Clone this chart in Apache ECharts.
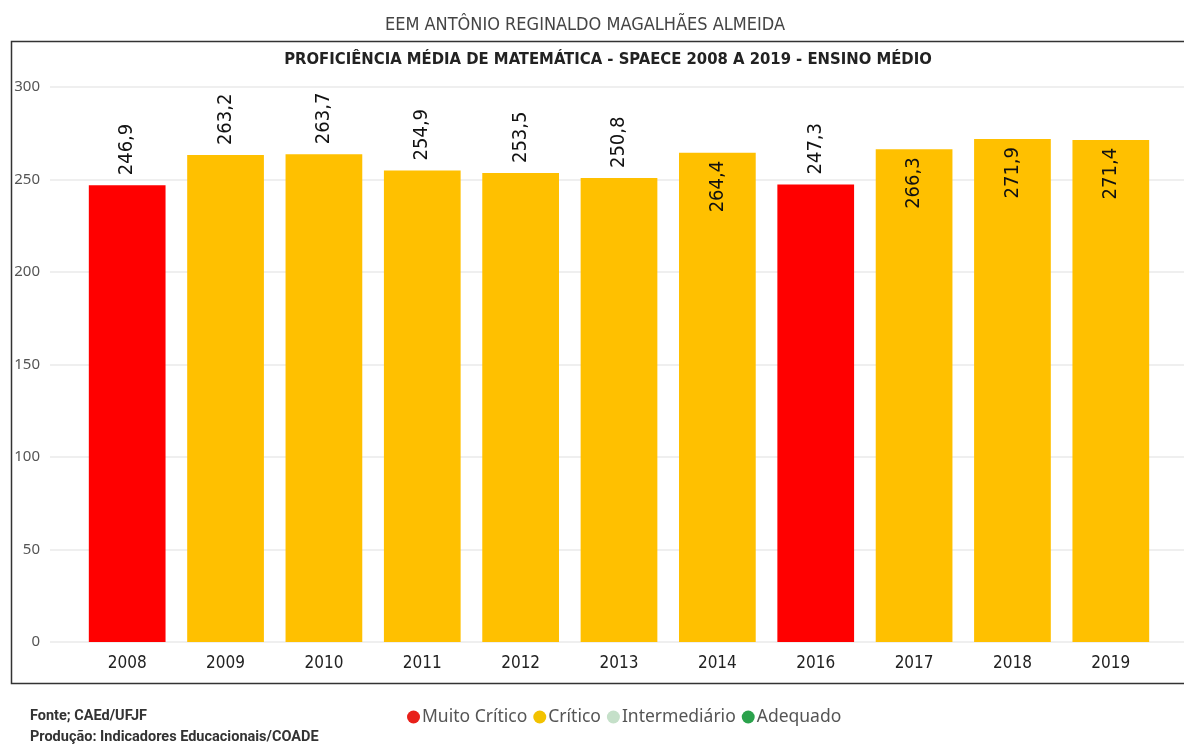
<!DOCTYPE html>
<html>
<head>
<meta charset="utf-8">
<script src="https://cdn.jsdelivr.net/npm/echarts@6/dist/echarts.min.js"></script>
<style>
  html, body { margin: 0; padding: 0; background: #fff; }
  #chart { width: 1184px; height: 746px; }
</style>
</head>
<body>
<div id="chart"></div>
<script>
// Proficiência média de matemática - SPAECE (barras por ano)

const anos = ['2008', '2009', '2010', '2011', '2012', '2013', '2014', '2016', '2017', '2018', '2019'];
const proficiencia = [246.9, 263.2, 263.7, 254.9, 253.5, 250.8, 264.4, 247.3, 266.3, 271.9, 271.4];
const nivelPorAno = ['Muito Crítico', 'Crítico', 'Crítico', 'Crítico', 'Crítico', 'Crítico',
  'Crítico', 'Muito Crítico', 'Crítico', 'Crítico', 'Crítico'];
const rotuloDentro = [false, false, false, false, false, false, true, false, true, true, true];
const niveis = ['Muito Crítico', 'Crítico', 'Intermediário', 'Adequado'];
const coresBarra = ['#FF0000', '#FFC000', '#C5E0C9', '#2BA24C'];
const coresLegenda = ['#E8201A', '#F2C200', '#C5E0C9', '#2BA24C'];
const ticksY = [0, 50, 100, 150, 200, 250, 300];

const fonteDin = "'DejaVu Sans Condensed', 'Liberation Sans Narrow', 'Noto Sans', sans-serif";

const chart = echarts.init(document.getElementById('chart'));

const rotuloFora = {
  show: true, position: 'top', rotate: 90, align: 'left', verticalAlign: 'middle',
  distance: 10, fontSize: 20, fontWeight: 500, color: '#111', fontFamily: fonteDin,
  formatter: p => String(p.value).replace('.', ',')
};
const rotuloInterno = Object.assign({}, rotuloFora, { position: 'insideTop', align: 'right', distance: 8 });

const series = niveis.map((nome, k) => ({
  name: nome,
  type: 'bar',
  stack: 'total',
  xAxisIndex: 0,
  yAxisIndex: 0,
  barCategoryGap: '22%',
  itemStyle: { color: coresBarra[k] },
  data: proficiencia.map((v, i) => nivelPorAno[i] === nome
    ? { value: v, label: rotuloDentro[i] ? rotuloInterno : rotuloFora }
    : '-')
}));

const option = {
  animation: false,
  backgroundColor: '#fff',
  color: coresLegenda,
  title: [
    {
      text: 'EEM ANTÔNIO REGINALDO MAGALHÃES ALMEIDA',
      left: 580, top: 11, textAlign: 'center',
      textStyle: { fontFamily: fonteDin, fontSize: 18, fontWeight: 'normal', color: '#444' }
    },
    {
      text: 'PROFICIÊNCIA MÉDIA DE MATEMÁTICA - SPAECE 2008 A 2019 - ENSINO MÉDIO',
      left: 603, top: 46, textAlign: 'center',
      textStyle: { fontFamily: fonteDin, fontSize: 16.5, fontWeight: 'bold', color: '#222' }
    }
  ],
  legend: {
    data: niveis.map((n, k) => ({ name: n, itemStyle: { color: coresLegenda[k] } })),
    left: 402, top: 703,
    icon: 'circle', itemWidth: 13, itemHeight: 13, itemGap: 6,
    textStyle: { fontFamily: "'Noto Sans', sans-serif", fontSize: 17.5, color: '#555', padding: [0, 0, 0, -3] }
  },
  grid: [
    { left: 78, right: 24, top: 87, bottom: 104 },
    { left: 50, right: 0, top: 87, bottom: 104 }
  ],
  xAxis: [
    {
      type: 'category', gridIndex: 0, data: anos,
      axisLine: { show: false }, axisTick: { show: false },
      axisLabel: { fontFamily: fonteDin, fontSize: 17, fontWeight: 500, color: '#222', margin: 13 }
    },
    { type: 'value', gridIndex: 1, show: false }
  ],
  yAxis: [
    { type: 'value', gridIndex: 0, min: 0, max: 300, interval: 50, show: false },
    {
      type: 'value', gridIndex: 1, min: ticksY[0], max: ticksY[ticksY.length - 1], interval: 50,
      axisLine: { show: false }, axisTick: { show: false },
      axisLabel: { fontFamily: "'Noto Sans', sans-serif", fontSize: 15, color: '#555', margin: 10 },
      splitLine: { lineStyle: { color: '#EFEFEF', width: 2 } }
    }
  ],
  graphic: [
    {
      type: 'rect', left: 9, top: 39, z: -1,
      shape: { width: 1190, height: 642 },
      style: { fill: 'none', stroke: '#333', lineWidth: 1.5 }
    },
    {
      type: 'text', left: 30, top: 709,
      style: { text: 'Fonte; CAEd/UFJF', font: "bold 14.5px Roboto, sans-serif", fill: '#333' }
    },
    {
      type: 'text', left: 30, top: 730,
      style: { text: 'Produção: Indicadores Educacionais/COADE', font: "bold 14.5px Roboto, sans-serif", fill: '#333' }
    }
  ],
  series: series
};

chart.setOption(option);
</script>
</body>
</html>
